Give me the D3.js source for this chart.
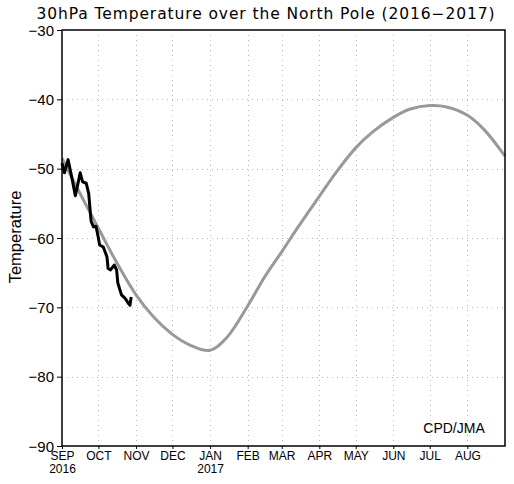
<!DOCTYPE html>
<html>
<head>
<meta charset="utf-8">
<script src="https://cdn.jsdelivr.net/npm/d3@7"></script>
<style>
  body { margin: 0; background: #fff; }
  svg text { font-family: "Liberation Sans", Arial, sans-serif; }
</style>
</head>
<body>
<svg id="chart" width="514" height="484"></svg>
<script>
// climatology (gray)
var climDates = ["2016-09-01", "2016-09-15", "2016-10-01", "2016-10-15", "2016-11-01", "2016-11-15",
                 "2016-12-01", "2016-12-15", "2017-01-01", "2017-01-15", "2017-02-01", "2017-02-15",
                 "2017-03-01", "2017-03-15", "2017-04-01", "2017-04-15", "2017-05-01", "2017-05-15",
                 "2017-06-01", "2017-06-15", "2017-07-01", "2017-07-15", "2017-08-01", "2017-08-15",
                 "2017-09-01"];
var climTemps = [-48.5, -53.3, -58.6, -63.2, -68.2, -71.3,
                 -73.9, -75.4, -76.2, -74.3, -69.8, -65.6,
                 -62.0, -58.3, -54.0, -50.5, -47.0, -44.7,
                 -42.6, -41.4, -40.9, -41.1, -42.3, -44.4,
                 -48.2];

// observed 2016 (black)
var obsDates = ["2016-09-01", "2016-09-03", "2016-09-06", "2016-09-09", "2016-09-12", "2016-09-16",
                "2016-09-18", "2016-09-21", "2016-09-23", "2016-09-25", "2016-09-27", "2016-09-29",
                "2016-10-01", "2016-10-02", "2016-10-05", "2016-10-08", "2016-10-09", "2016-10-11",
                "2016-10-14", "2016-10-16", "2016-10-17", "2016-10-20", "2016-10-23", "2016-10-26",
                "2016-10-27", "2016-10-28"];
var obsTemps = [-49.2, -50.6, -48.7, -51.2, -53.9, -50.6,
                -51.9, -52.1, -53.6, -57.6, -58.4, -58.3,
                -60.0, -61.0, -61.3, -62.7, -64.4, -64.6,
                -63.9, -64.6, -66.5, -68.2, -68.7, -69.5,
                -69.7, -68.5];

var yTicks = [-30, -40, -50, -60, -70, -80, -90];
var monthLabels = ["SEP", "OCT", "NOV", "DEC", "JAN", "FEB", "MAR", "APR", "MAY", "JUN", "JUL", "AUG"];
var yearLabels = ["2016", "", "", "", "2017", "", "", "", "", "", "", ""];

var parse = d3.timeParse("%Y-%m-%d");
var clim = climDates.map(function (d, i) { return {date: parse(d), t: climTemps[i]}; });
var obs = obsDates.map(function (d, i) { return {date: parse(d), t: obsTemps[i]}; });

var L = 62, R = 505, T = 30, B = 446;
var svg = d3.select("#chart");

var x = d3.scaleTime()
          .domain([parse("2016-09-01"), parse("2017-09-01")])
          .range([L, R]);
var y = d3.scaleLinear().domain([-90, -30]).range([B, T]);

var months = d3.timeMonth.range(parse("2016-09-01"), parse("2017-09-01"));

// grid
var grid = svg.append("g")
              .attr("stroke", "#b8b8b8")
              .attr("stroke-width", 1)
              .attr("stroke-dasharray", "1,4");
grid.selectAll("line.v").data(months.slice(1)).enter().append("line")
    .attr("x1", function (d) { return Math.round(x(d)) + 0.5; })
    .attr("x2", function (d) { return Math.round(x(d)) + 0.5; })
    .attr("y1", T).attr("y2", B);
grid.selectAll("line.h").data(yTicks.slice(1, -1)).enter().append("line")
    .attr("y1", function (d) { return Math.round(y(d)) + 0.5; })
    .attr("y2", function (d) { return Math.round(y(d)) + 0.5; })
    .attr("x1", L).attr("x2", R);

// lines
var line = d3.line()
             .x(function (d) { return x(d.date); })
             .y(function (d) { return y(d.t); });

svg.append("path")
   .attr("fill", "none")
   .attr("stroke", "#999")
   .attr("stroke-width", 3)
   .attr("d", line.curve(d3.curveCatmullRom)(clim));

svg.append("path")
   .attr("fill", "none")
   .attr("stroke", "#000")
   .attr("stroke-width", 3)
   .attr("stroke-linejoin", "round")
   .attr("d", line.curve(d3.curveLinear)(obs));

// frame
svg.append("rect")
   .attr("x", L).attr("y", T)
   .attr("width", R - L).attr("height", B - T)
   .attr("fill", "none")
   .attr("stroke", "#000")
   .attr("stroke-width", 1.5);

// y axis
var yAxis = d3.axisLeft(y)
              .tickValues(yTicks)
              .tickSize(5)
              .tickPadding(3)
              .tickFormat(function (d) { return "\u2212" + Math.abs(d); });
var gy = svg.append("g").attr("transform", "translate(" + L + ",0)").call(yAxis);
gy.select(".domain").remove();
gy.selectAll("text").attr("font-size", 15).attr("fill", "#000").attr("dy", "0.35em");

// x axis
var xAxis = d3.axisBottom(x)
              .tickValues(months)
              .tickSize(3)
              .tickPadding(0)
              .tickFormat(function (d, i) { return monthLabels[i]; });
var gx = svg.append("g").attr("transform", "translate(0," + B + ")").call(xAxis);
gx.select(".domain").remove();
gx.selectAll("text")
  .attr("y", 14)
  .attr("dy", null)
  .attr("font-size", 12)
  .attr("fill", "#000");
gx.selectAll(".tick").append("text")
  .attr("y", 27)
  .attr("font-size", 12)
  .attr("fill", "#000")
  .text(function (d, i) { return yearLabels[i]; });

// titles
svg.append("text")
   .attr("x", 266).attr("y", 19)
   .attr("text-anchor", "middle")
   .attr("font-size", 15.5)
   .attr("letter-spacing", 0.9)
   .style("font-family", "DejaVu Sans, sans-serif")
   .attr("fill", "#000")
   .text("30hPa Temperature over the North Pole (2016\u22122017)");

svg.append("text")
   .attr("transform", "translate(21,237) rotate(-90)")
   .attr("text-anchor", "middle")
   .attr("font-size", 16.5)
   .attr("fill", "#000")
   .text("Temperature");

svg.append("text")
   .attr("x", 454).attr("y", 433)
   .attr("text-anchor", "middle")
   .attr("font-size", 14)
   .attr("fill", "#000")
   .text("CPD/JMA");
</script>
</body>
</html>
